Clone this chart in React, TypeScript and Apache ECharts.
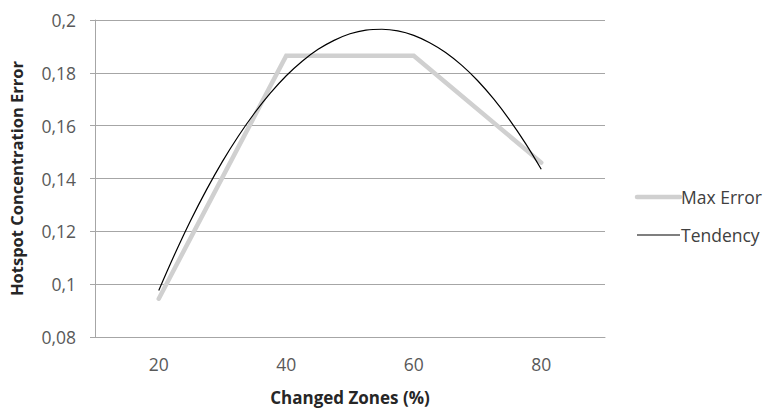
import React, { useEffect, useRef } from "react";
import * as echarts from "echarts";

const categories = ["20", "40", "60", "80"];
const maxError = [0.0945, 0.1865, 0.1865, 0.146];
// Tendency curve at x = 20, 22.5, ..., 80
const tendencyX = [20, 22.5, 25, 27.5, 30, 32.5, 35, 37.5, 40, 42.5, 45, 47.5, 50, 52.5, 55, 57.5, 60, 62.5, 65, 67.5, 70, 72.5, 75, 77.5, 80];
const tendencyY = [
  0.0976, 0.1113, 0.1241, 0.1358, 0.1465, 0.1561, 0.1647, 0.1723, 0.1789, 0.1844, 0.1889, 0.1923, 0.1948,
  0.1962, 0.1965, 0.1959, 0.1942, 0.1914, 0.1877, 0.1829, 0.1771, 0.1702, 0.1623, 0.1534, 0.1435,
];
const yTicks = { min: 0.08, max: 0.2, interval: 0.02 };

const FONT = "'Open Sans', Lato, sans-serif";

export default function App() {
  const ref = useRef<HTMLDivElement>(null);
  useEffect(() => {
    document.body.style.margin = "0";
    const chart = echarts.init(ref.current!, null, { renderer: "svg" });
    chart.setOption({
      animation: false,
      backgroundColor: "#ffffff",
      textStyle: { fontFamily: FONT },
      grid: { left: 93, right: 167, top: 20, bottom: 75, containLabel: false },
      xAxis: [
        {
          type: "category",
          data: categories,
          boundaryGap: true,
          axisLine: { show: true, lineStyle: { color: "#a6a6a6", width: 1 } },
          axisTick: { show: false },
          axisLabel: { color: "#595959", fontSize: 17.5, margin: 18, fontFamily: FONT },
          name: "Changed Zones (%)",
          nameLocation: "middle",
          nameGap: 52,
          nameTextStyle: { color: "#262626", fontSize: 17, fontWeight: "bold", fontFamily: FONT },
        },
        {
          type: "value",
          min: 10,
          max: 90,
          show: false,
        },
      ],
      yAxis: {
        type: "value",
        min: yTicks.min,
        max: yTicks.max,
        interval: yTicks.interval,
        axisLine: { show: true, lineStyle: { color: "#a6a6a6", width: 1 } },
        axisTick: { show: true, length: 5, lineStyle: { color: "#a6a6a6" } },
        splitLine: { show: true, lineStyle: { color: "#a6a6a6", width: 1 } },
        axisLabel: {
          color: "#595959",
          fontSize: 17.5,
          margin: 19,
          fontFamily: FONT,
          formatter: (v: number) => String(+v.toFixed(2)).replace(".", ","),
        },
        name: "Hotspot Concentration Error",
        nameLocation: "middle",
        nameGap: 70,
        nameRotate: 90,
        nameTextStyle: { color: "#262626", fontSize: 16.5, fontWeight: "bold", fontFamily: FONT },
      },
      series: [
        {
          name: "Max Error",
          type: "line",
          xAxisIndex: 0,
          data: maxError,
          symbol: "none",
          lineStyle: { color: "#d0d0d0", width: 4.5, cap: "round", join: "miter" },
          z: 2,
        },
        {
          name: "Tendency",
          type: "line",
          xAxisIndex: 1,
          data: tendencyX.map((x, i) => [x, tendencyY[i]]),
          symbol: "none",
          smooth: 0.4,
          smoothMonotone: "none",
          lineStyle: { color: "#000000", width: 1.2 },
          z: 3,
        },
      ],
      graphic: [
        { type: "line", shape: { x1: 637, y1: 197, x2: 680, y2: 197 }, style: { stroke: "#d0d0d0", lineWidth: 4.5, lineCap: "round" } },
        { type: "text", x: 681, y: 197, style: { text: "Max Error", fill: "#404040", fontSize: 17.5, fontFamily: FONT, verticalAlign: "middle", align: "left" } },
        { type: "line", shape: { x1: 637, y1: 235, x2: 680, y2: 235 }, style: { stroke: "#000000", lineWidth: 1.2 } },
        { type: "text", x: 681, y: 235, style: { text: "Tendency", fill: "#404040", fontSize: 17.5, fontFamily: FONT, verticalAlign: "middle", align: "left" } },
      ],
    });
    return () => chart.dispose();
  }, []);
  return <div ref={ref} style={{ width: 772, height: 412 }} />;
}
